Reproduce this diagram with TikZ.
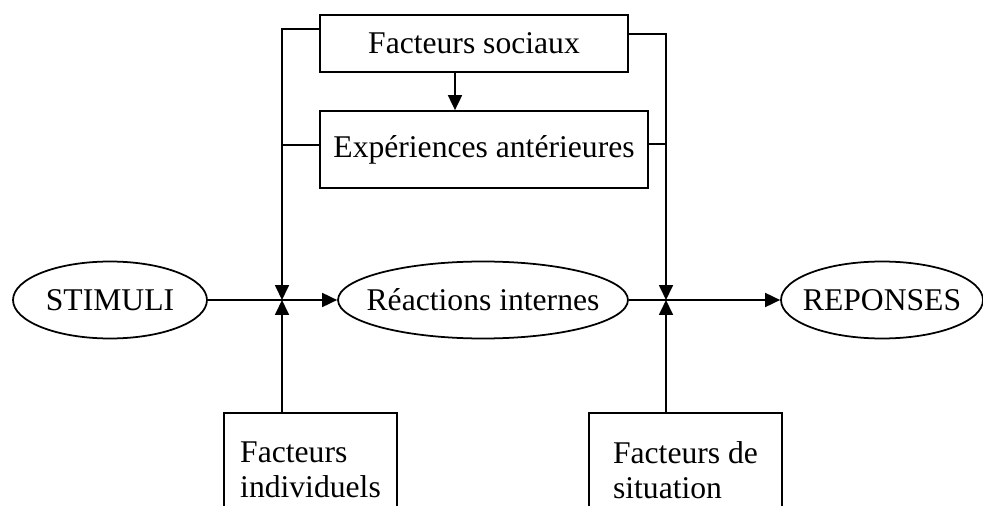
\documentclass[tikz,border=0pt]{standalone}
\usepackage{fontspec}
\setmainfont{Liberation Serif}
\usetikzlibrary{shapes.geometric,arrows.meta}

\begin{document}
\begin{tikzpicture}[
    x=0.02cm, y=-0.02cm,
    line width=1pt,
    every node/.style={font=\fontsize{18}{19.9}\selectfont},
    box/.style={rectangle, draw, inner sep=0pt, minimum height=1.14cm},
    lowbox/.style={rectangle, draw, align=left, minimum height=2.28cm},
    oval/.style={ellipse, draw, inner sep=0pt, minimum height=1.54cm,
      execute at begin node={\hbox to 0pt\bgroup\hss},
      execute at end node={\hss\egroup}},
    arrow/.style={-{Triangle[length=0.3cm, width=0.28cm]}}
  ]

    \useasboundingbox (0,0) rectangle (983,506);
    \clip (0,0) rectangle (983,506);

    % Top boxes
    \node[box, minimum width=6.16cm] (social) at (474,43.5) {Facteurs sociaux};
    \node[box, minimum width=6.56cm, minimum height=1.54cm] (exper) at (484,149.5) {Expériences antérieures};

    % Main chain
    \node[oval, minimum width=3.88cm] (stimuli) at (110,300) {STIMULI};
    \node[oval, minimum width=5.8cm] (reactions) at (483,300) {Réactions internes};
    \node[oval, minimum width=4.04cm] (reponses) at (882,300) {REPONSES};

    % Bottom boxes
    \node[lowbox, minimum width=3.46cm] (individuels) at (310.5,470) {Facteurs\\individuels};
    \node[lowbox, minimum width=3.86cm] (situation) at (685.5,470) {Facteurs de\\situation};

    % Junctions
    \coordinate (jleft) at (282,300);
    \coordinate (jright) at (666,300);
    \coordinate (split) at ([xshift=-0.38cm]social.south);

    % Arrows
    \draw[arrow] (stimuli) -- (reactions);
    \draw[arrow] (reactions) -- (reponses);
    \draw[arrow] (split) -- (split |- exper.north);
    \draw[arrow] ([yshift=0.29cm]social.west) -| (jleft);
    \draw ([yshift=0.09cm]exper.west) -- ([yshift=0.09cm]exper.west -| jleft);
    \draw[arrow] ([yshift=0.19cm]social.east) -| (jright);
    \draw ([yshift=0.11cm]exper.east) -- ([yshift=0.11cm]exper.east -| jright);
    \draw[arrow] (individuels.north -| jleft) -- (jleft);
    \draw[arrow] (situation.north -| jright) -- (jright);

  \end{tikzpicture}
\end{document}
